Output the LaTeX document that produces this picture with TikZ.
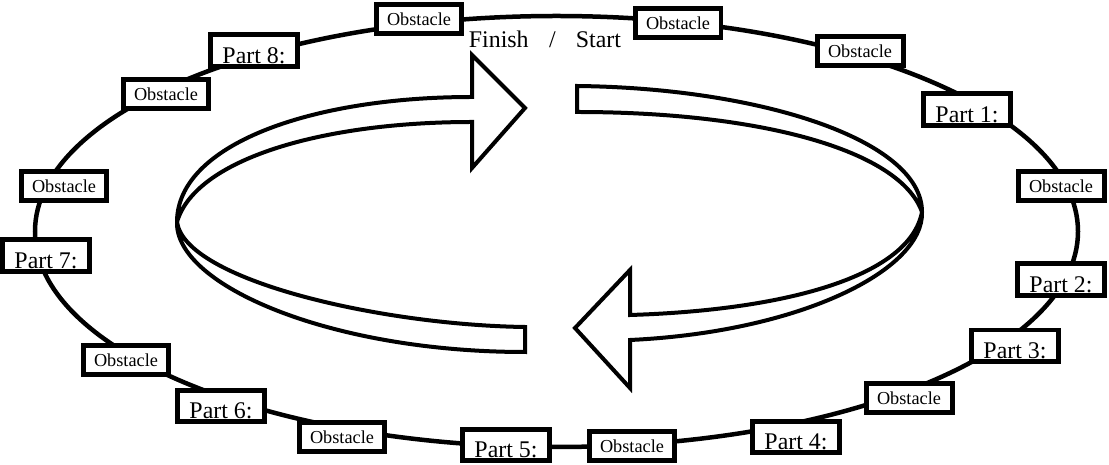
\documentclass[tikz,border=0pt]{standalone}
\usepackage{fontspec}
\setmainfont{Liberation Serif}
\usepackage{tikz}

\begin{document}
\begin{tikzpicture}[x=0.02cm, y=-0.02cm,
    track/.style={line width=0.09cm},
    band/.style={line width=0.08cm, fill=white, line join=miter, miter limit=3},
    obst/.style={draw, line width=0.1cm, fill=white, minimum width=1.72cm, minimum height=0.58cm, inner sep=0pt, font=\fontsize{10.4}{12}\selectfont},
    part/.style={draw, line width=0.1cm, fill=white, minimum width=1.74cm, minimum height=0.64cm, text height=0.52cm, text depth=0pt, inner xsep=0pt, inner ysep=0.06cm, font=\fontsize{13.6}{16}\selectfont}]

    \useasboundingbox (0, 0) rectangle (1109, 465);

    \draw[track] (556.5, 231.5) ellipse [x radius=521.5, y radius=215.5];

    \draw[band] (472, 97) -- (472, 55) -- (525, 108) -- (472, 168) -- (472, 122) .. controls (320, 122) and (195, 160) .. (177, 222) .. controls (177, 145) and (310, 97) .. (472, 97) -- cycle;
    \draw[band] (577, 86) .. controls (760, 88) and (922, 140) .. (922, 212) .. controls (900, 150) and (760, 112) .. (577, 112) -- cycle;
    \draw[band] (922, 212) .. controls (924, 270) and (800, 332) .. (630, 340) -- (630, 388) -- (575, 328) -- (630, 270) -- (630, 315) .. controls (790, 310) and (910, 275) .. (922, 212) -- cycle;
    \draw[band] (177, 222) .. controls (175, 285) and (330, 352) .. (525, 352) -- (525, 327) .. controls (380, 325) and (185, 280) .. (177, 222) -- cycle;

    \node[anchor=base, font=\fontsize{13.6}{16}\selectfont](fs) at (545, 48) {Finish\hspace{0.85em}/\hspace{0.85em}Start};

    \node[obst](o1) at (419, 19) {Obstacle};
    \node[obst](o2) at (678, 23) {Obstacle};
    \node[obst](o3) at (860, 51) {Obstacle};
    \node[part](p1) at (967, 110) {Part 1:};
    \node[obst](o4) at (1061, 186) {Obstacle};
    \node[part](p2) at (1061, 280) {Part 2:};
    \node[part](p3) at (1015, 346) {Part 3:};
    \node[obst](o5) at (909, 398) {Obstacle};
    \node[part](p4) at (796, 437) {Part 4:};
    \node[obst](o6) at (632, 446) {Obstacle};
    \node[part](p5) at (506, 445) {Part 5:};
    \node[obst](o7) at (342, 437) {Obstacle};
    \node[part](p6) at (221, 406) {Part 6:};
    \node[obst](o8) at (126, 360) {Obstacle};
    \node[part](p7) at (46, 256) {Part 7:};
    \node[obst](o9) at (64, 186) {Obstacle};
    \node[obst](o10) at (166, 94) {Obstacle};
    \node[part](p8) at (254, 51) {Part 8:};

\end{tikzpicture}
\end{document}
